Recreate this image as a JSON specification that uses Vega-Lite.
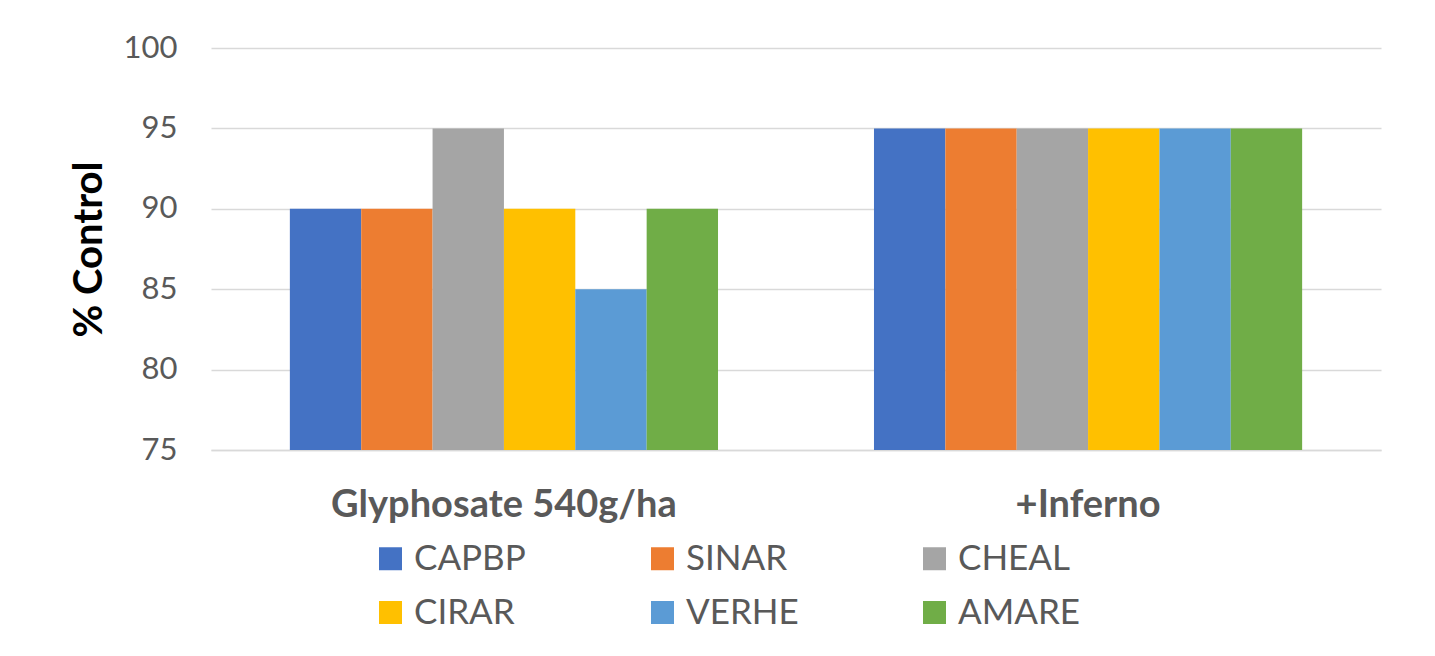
{
  "$schema": "https://vega.github.io/schema/vega-lite/v6.json",
  "description": "Grouped bar chart of percent weed control for Glyphosate 540g/ha and +Inferno.",
  "width": 1170,
  "height": 402,
  "autosize": {"type": "none"},
  "padding": {"left": 211, "top": 48, "right": 54, "bottom": 206},
  "background": "white",
  "config": {
    "font": "Lato",
    "view": {"stroke": null}
  },
  "data": {
    "values": [
      {"Treatment": "Glyphosate 540g/ha", "Species": "CAPBP", "Control": 90},
      {"Treatment": "Glyphosate 540g/ha", "Species": "SINAR", "Control": 90},
      {"Treatment": "Glyphosate 540g/ha", "Species": "CHEAL", "Control": 95},
      {"Treatment": "Glyphosate 540g/ha", "Species": "CIRAR", "Control": 90},
      {"Treatment": "Glyphosate 540g/ha", "Species": "VERHE", "Control": 85},
      {"Treatment": "Glyphosate 540g/ha", "Species": "AMARE", "Control": 90},
      {"Treatment": "+Inferno", "Species": "CAPBP", "Control": 95},
      {"Treatment": "+Inferno", "Species": "SINAR", "Control": 95},
      {"Treatment": "+Inferno", "Species": "CHEAL", "Control": 95},
      {"Treatment": "+Inferno", "Species": "CIRAR", "Control": 95},
      {"Treatment": "+Inferno", "Species": "VERHE", "Control": 95},
      {"Treatment": "+Inferno", "Species": "AMARE", "Control": 95}
    ]
  },
  "mark": {"type": "bar", "clip": true},
  "encoding": {
    "x": {
      "field": "Treatment",
      "type": "nominal",
      "sort": ["Glyphosate 540g/ha", "+Inferno"],
      "title": null,
      "scale": {"paddingInner": 0.267, "paddingOuter": 0.135},
      "axis": {
        "labelAngle": 0,
        "labelFontSize": 38,
        "labelFontWeight": "bold",
        "labelColor": "#595959",
        "labelPadding": 36,
        "labelLimit": 700,
        "ticks": false,
        "domainColor": "#D9D9D9",
        "domainWidth": 1.5
      }
    },
    "xOffset": {
      "field": "Species",
      "type": "nominal",
      "sort": ["CAPBP", "SINAR", "CHEAL", "CIRAR", "VERHE", "AMARE"],
      "scale": {"paddingInner": 0, "paddingOuter": 0}
    },
    "y": {
      "field": "Control",
      "type": "quantitative",
      "title": "% Control",
      "scale": {"domain": [75, 100], "zero": false, "nice": false},
      "axis": {
        "values": [75, 80, 85, 90, 95, 100],
        "labelFontSize": 31,
        "labelColor": "#595959",
        "labelPadding": 34,
        "ticks": false,
        "domain": false,
        "gridColor": "#D9D9D9",
        "gridWidth": 1.5,
        "titleFontSize": 40,
        "titleFontWeight": "bold",
        "titleColor": "black",
        "titlePadding": 14
      }
    },
    "y2": {"datum": 75},
    "color": {
      "field": "Species",
      "type": "nominal",
      "title": null,
      "scale": {
        "domain": ["CAPBP", "SINAR", "CHEAL", "CIRAR", "VERHE", "AMARE"],
        "range": ["#4472C4", "#ED7D31", "#A5A5A5", "#FFC000", "#5B9BD5", "#70AD47"]
      },
      "legend": {
        "orient": "none",
        "legendX": 162,
        "legendY": 493,
        "direction": "horizontal",
        "columns": 3,
        "gridAlign": "all",
        "columnPadding": 108,
        "rowPadding": 18,
        "padding": 0,
        "symbolType": "square",
        "symbolSize": 529,
        "symbolStrokeWidth": 0,
        "labelFontSize": 35,
        "labelColor": "#595959",
        "labelOffset": 6,
        "labelLimit": 300
      }
    },
    "tooltip": [
      {"field": "Treatment", "type": "nominal"},
      {"field": "Species", "type": "nominal"},
      {"field": "Control", "type": "quantitative"}
    ]
  }
}
